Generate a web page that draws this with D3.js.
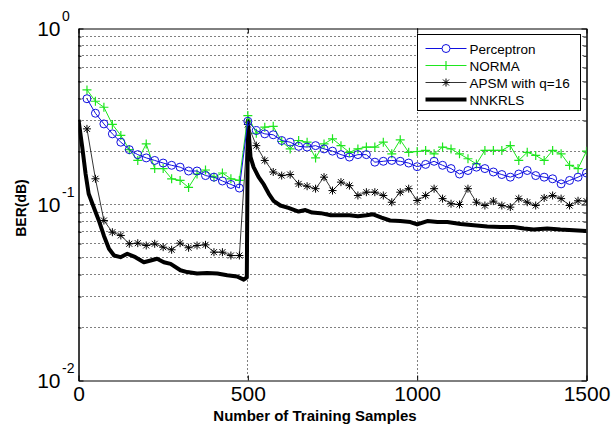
<!DOCTYPE html>
<html>
<head>
<meta charset="utf-8">
<script src="https://cdn.jsdelivr.net/npm/d3@7"></script>
<style>
body{margin:0;background:#fff;}
text{font-family:Arial,"Liberation Sans",sans-serif;}
</style>
</head>
<body>
<div id="chart"></div>
<script>
// samples where the marker series were recorded
var sampleN = [25,50,75,100,125,150,175,200,225,250,275,300,325,350,375,400,425,450,475,500,
  525,550,575,600,625,650,675,700,725,750,775,800,825,850,875,900,925,950,975,1000,
  1025,1050,1075,1100,1125,1150,1175,1200,1225,1250,1275,1300,1325,1350,1375,1400,1425,1450,1475,1500];

var perceptron = [0.399,0.330,0.287,0.252,0.226,0.205,0.192,0.184,0.178,0.172,0.167,0.163,0.155,0.155,0.146,0.143,0.136,0.130,0.124,0.297,
  0.263,0.252,0.249,0.231,0.226,0.214,0.212,0.216,0.207,0.201,0.192,0.186,0.192,0.192,0.174,0.176,0.178,0.176,0.172,0.164,
  0.169,0.176,0.167,0.160,0.149,0.156,0.163,0.160,0.153,0.148,0.143,0.149,0.156,0.146,0.143,0.140,0.131,0.137,0.143,0.151];

var norma = [0.448,0.386,0.357,0.285,0.247,0.205,0.178,0.221,0.160,0.160,0.140,0.137,0.125,0.149,0.157,0.143,0.151,0.140,0.137,0.320,
  0.254,0.275,0.278,0.228,0.207,0.231,0.226,0.184,0.221,0.236,0.216,0.198,0.207,0.212,0.212,0.226,0.194,0.233,0.198,0.200,
  0.203,0.194,0.212,0.207,0.194,0.182,0.170,0.203,0.203,0.203,0.216,0.178,0.198,0.190,0.178,0.203,0.194,0.167,0.160,0.201];

var apsm = [0.269,0.140,0.0811,0.0696,0.0667,0.0598,0.0603,0.0585,0.0598,0.0572,0.0553,0.0603,0.0568,0.0585,0.0590,0.0536,0.0536,0.0513,0.0513,0.285,
  0.216,0.178,0.153,0.146,0.148,0.131,0.127,0.123,0.143,0.120,0.134,0.128,0.1125,0.1175,0.1175,0.1125,0.103,0.1175,0.123,0.1054,
  0.1125,0.123,0.108,0.101,0.100,0.123,0.103,0.0987,0.1045,0.0987,0.0966,0.108,0.103,0.0987,0.109,0.1125,0.108,0.0987,0.105,0.1045];

var nnkrlsN = [0,11,21,30,45,60,75,90,105,124,144,168,193,213,232,252,272,301,321,350,380,410,439,468,488,497,
  500,508,517,532,547,562,576,596,620,650,670,690,715,745,770,800,825,850,870,895,920,950,980,1000,
  1030,1060,1089,1128,1167,1207,1246,1285,1315,1344,1384,1423,1462,1500];
var nnkrls = [0.303,0.212,0.149,0.115,0.0965,0.0812,0.0665,0.0561,0.0513,0.0502,0.0525,0.0502,0.0470,0.0481,0.0492,0.0470,0.0460,0.0423,0.0413,0.0405,0.0408,0.0405,0.0396,0.0390,0.0374,0.0385,
  0.300,0.186,0.163,0.143,0.130,0.115,0.105,0.0987,0.0956,0.0912,0.0930,0.0900,0.0893,0.0868,0.0868,0.0868,0.0858,0.0868,0.0880,0.0843,0.0811,0.0805,0.0795,0.0770,
  0.0805,0.0795,0.0795,0.0775,0.0763,0.0750,0.0745,0.0745,0.0730,0.0720,0.0730,0.0720,0.0713,0.0707];

var seriesNames = ["Perceptron","NORMA","APSM with q=16","NNKRLS"];
var xTicks = [0,500,1000,1500];
var yMajor = [1,0.1,0.01];
var yTickExp = ["0","-1","-2"];
var yMinor = [0.02,0.03,0.04,0.05,0.06,0.07,0.08,0.09,0.2,0.3,0.4,0.5,0.6,0.7,0.8,0.9];

var margin = {top: 28.5, left: 78.5},
    width = 508,
    height = 352;

var svg = d3.select("#chart").append("svg")
    .attr("width", 613)
    .attr("height", 428);

var g = svg.append("g")
    .attr("transform", "translate(" + margin.left + "," + margin.top + ")");

var x = d3.scaleLinear().domain([0, 1500]).range([0, width]);
var y = d3.scaleLog().domain([0.01, 1]).range([height, 0]);

// dotted grid
g.selectAll(".ygrid")
  .data(yMinor.concat([0.1]))
  .enter().append("line")
  .attr("x1", 0).attr("x2", width)
  .attr("y1", function(d){ return Math.round(y(d)); })
  .attr("y2", function(d){ return Math.round(y(d)); })
  .attr("stroke", "#000").attr("stroke-width", 1)
  .attr("stroke-dasharray", "1,3");

g.selectAll(".xgrid")
  .data([500, 1000])
  .enter().append("line")
  .attr("y1", 0).attr("y2", height)
  .attr("x1", function(d){ return Math.round(x(d)); })
  .attr("x2", function(d){ return Math.round(x(d)); })
  .attr("stroke", "#000").attr("stroke-width", 1)
  .attr("stroke-dasharray", "1,3");

// axes with inward ticks
function styleAxis(sel){
  sel.select(".domain").attr("stroke", "#000");
  sel.selectAll(".tick line").attr("stroke", "#000");
}
g.append("g").attr("transform", "translate(0," + height + ")")
  .call(d3.axisBottom(x).tickValues(xTicks).tickSize(-5).tickSizeOuter(0).tickPadding(6).tickFormat(d3.format("d")))
  .call(styleAxis)
  .selectAll("text").style("font-size", "21px").attr("fill", "#000");
g.append("g")
  .call(d3.axisTop(x).tickValues(xTicks).tickSize(-5).tickSizeOuter(0).tickFormat(""))
  .call(styleAxis);
g.append("g")
  .call(d3.axisLeft(y).tickValues(yMajor).tickSize(-5).tickSizeOuter(0).tickFormat(""))
  .call(styleAxis);
g.append("g")
  .call(d3.axisLeft(y).tickValues(yMinor).tickSize(-3).tickSizeOuter(0).tickFormat(""))
  .call(styleAxis);
g.append("g").attr("transform", "translate(" + width + ",0)")
  .call(d3.axisRight(y).tickValues(yMajor).tickSize(-5).tickSizeOuter(0).tickFormat(""))
  .call(styleAxis);
g.append("g").attr("transform", "translate(" + width + ",0)")
  .call(d3.axisRight(y).tickValues(yMinor).tickSize(-3).tickSizeOuter(0).tickFormat(""))
  .call(styleAxis);

// y labels 10^n
var ylab = g.selectAll(".ylab").data(yMajor).enter().append("g");
ylab.append("text")
  .attr("x", -18).attr("y", function(d){ return y(d) + 7.5; })
  .attr("text-anchor", "end").style("font-size", "21px")
  .text("10");
ylab.append("text")
  .attr("x", -16.5).attr("y", function(d){ return y(d) - 8; })
  .style("font-size", "14px")
  .text(function(d, i){ return yTickExp[i]; });

// axis titles
svg.append("text")
  .attr("x", 315).attr("y", 421)
  .attr("text-anchor", "middle")
  .style("font-size", "15px").style("font-weight", "bold")
  .text("Number of Training Samples");
svg.append("text")
  .attr("transform", "translate(26,208) rotate(-90)")
  .attr("text-anchor", "middle")
  .style("font-size", "14px").style("font-weight", "bold")
  .text("BER(dB)");

// plot lines
g.append("clipPath").attr("id", "clip")
  .append("rect").attr("x", 0).attr("y", 0).attr("width", width).attr("height", height);
var plot = g.append("g").attr("clip-path", "url(#clip)");

var line = d3.line()
  .x(function(d){ return x(d[0]); })
  .y(function(d){ return y(d[1]); });

function pairs(xs, ys){ return xs.map(function(v, i){ return [v, ys[i]]; }); }

var starPath = "M-4,0L4,0M0,-4L0,4M-3,-3L3,3M-3,3L3,-3";
var plusPath = "M-4.5,0L4.5,0M0,-4.5L0,4.5";

plot.append("path").datum(pairs(nnkrlsN, nnkrls))
  .attr("d", line).attr("fill", "none").attr("stroke", "#000")
  .attr("stroke-width", 4).attr("stroke-linejoin", "round");

plot.append("path").datum(pairs(sampleN, apsm))
  .attr("d", line).attr("fill", "none").attr("stroke", "#000").attr("stroke-width", 0.8);
plot.selectAll(".apsm").data(pairs(sampleN, apsm)).enter().append("path")
  .attr("transform", function(d){ return "translate(" + x(d[0]) + "," + y(d[1]) + ")"; })
  .attr("d", starPath).attr("stroke", "#000").attr("stroke-width", 1);

plot.append("path").datum(pairs(sampleN, norma))
  .attr("d", line).attr("fill", "none").attr("stroke", "#1ee61e").attr("stroke-width", 1);
plot.selectAll(".norma").data(pairs(sampleN, norma)).enter().append("path")
  .attr("transform", function(d){ return "translate(" + x(d[0]) + "," + y(d[1]) + ")"; })
  .attr("d", plusPath).attr("stroke", "#1ee61e").attr("stroke-width", 1.2);

plot.append("path").datum(pairs(sampleN, perceptron))
  .attr("d", line).attr("fill", "none").attr("stroke", "#1010e0").attr("stroke-width", 1);
plot.selectAll(".perc").data(pairs(sampleN, perceptron)).enter().append("circle")
  .attr("cx", function(d){ return x(d[0]); })
  .attr("cy", function(d){ return y(d[1]); })
  .attr("r", 4).attr("fill", "none").attr("stroke", "#1010e0").attr("stroke-width", 1);

// legend
var leg = svg.append("g").attr("transform", "translate(417.5,34.5)");
leg.append("rect").attr("width", 163).attr("height", 76)
  .attr("fill", "#fff").attr("stroke", "#000").attr("stroke-width", 1);
var legColors = ["#1010e0", "#1ee61e", "#000", "#000"];
var legWidths = [1, 1, 0.8, 4];
var row = leg.selectAll(".row").data(seriesNames).enter().append("g")
  .attr("transform", function(d, i){ return "translate(0," + (14 + i * 17) + ")"; });
row.append("line").attr("x1", 8).attr("x2", 49)
  .attr("stroke", function(d, i){ return legColors[i]; })
  .attr("stroke-width", function(d, i){ return legWidths[i]; });
row.append("text").attr("x", 52).attr("y", 5).style("font-size", "13.5px")
  .text(function(d){ return d; });
leg.append("circle").attr("cx", 28.5).attr("cy", 14).attr("r", 4)
  .attr("fill", "#fff").attr("stroke", legColors[0]);
leg.append("path").attr("transform", "translate(28.5,31)").attr("d", plusPath)
  .attr("stroke", legColors[1]).attr("stroke-width", 1.2);
leg.append("path").attr("transform", "translate(28.5,48)").attr("d", starPath)
  .attr("stroke", "#000");
</script>
</body>
</html>
